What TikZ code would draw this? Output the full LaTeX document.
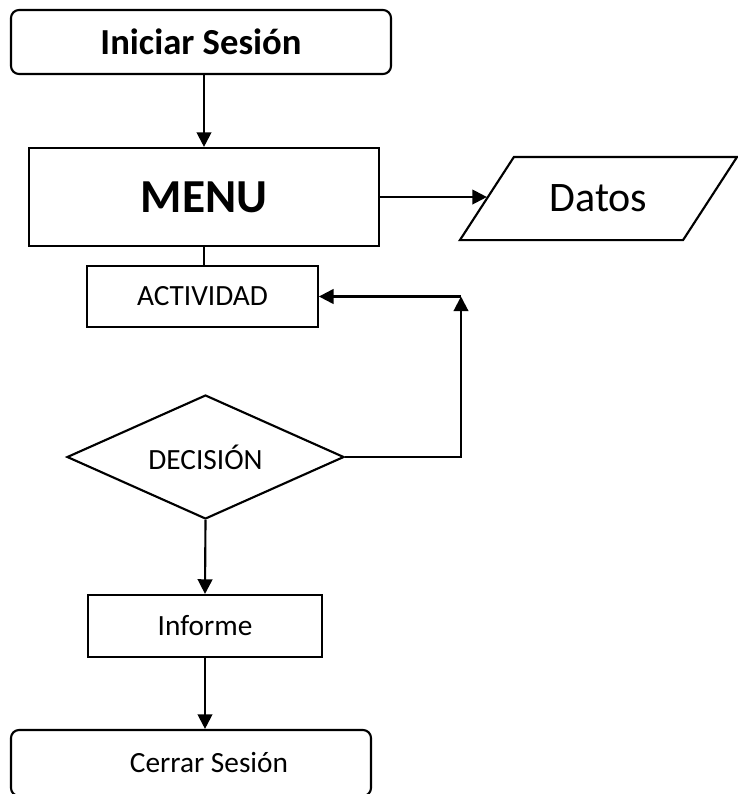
\documentclass[tikz,border=0pt]{standalone}
\usepackage{fontspec}
\setmainfont{Carlito}
\usepackage{tikz}
\usetikzlibrary{arrows.meta,positioning,shapes.geometric}

\begin{document}
\begin{tikzpicture}[x=0.75pt,y=-0.75pt,line width=1.6pt,
              box/.style={rectangle,draw,inner sep=0,line width=1.6pt},
              term/.style={box,rounded corners=6pt},
              dec/.style={diamond,aspect=2.23,draw,inner sep=0,line width=1.6pt},
              arr/.style={-{Triangle[length=11pt,width=11pt]}}]
              \useasboundingbox (0,0) rectangle (738,794);
              \node[term,minimum width=285pt,minimum height=48pt,
                font=\fontsize{27.5}{30}\selectfont\bfseries] (ini) at (201,42) {Iniciar Sesión};
              \node[box,minimum width=262.5pt,minimum height=73.5pt,
                font=\fontsize{35.5}{38}\selectfont\bfseries] (menu) at (204,197) {MENU};
              \node[box,minimum width=173pt,minimum height=46pt,
                font=\fontsize{22}{24}\selectfont] (act) at (202.5,296.5) {ACTIVIDAD};
              % datos: parallelogram round a plain box
              \node[inner sep=0,minimum width=165.75pt,minimum height=60.75pt,
                font=\fontsize{31.5}{34}\selectfont] (dat) at (598.5,198.5) {Datos};
              \draw ([xshift=20.25pt]dat.north west) -- ([xshift=20.25pt]dat.north east)
                -- ([xshift=-20.25pt]dat.south east) -- ([xshift=-20.25pt]dat.south west) -- cycle;
              \node[dec,minimum width=207.75pt,minimum height=93pt,
                font=\fontsize{22}{24}\selectfont] (deci) at (205.5,457) {DECISIÓN};
              \node[box,minimum width=175.5pt,minimum height=46.5pt,
                font=\fontsize{22}{24}\selectfont] (inf) at (205,626) {Informe};
              \node[term,minimum width=270pt,minimum height=49.5pt,
                font=\fontsize{22}{24}\selectfont] (cer) at (191,763) {\hspace*{27pt}Cerrar Sesión};
              \coordinate (back) at (461,296.5);
              \draw[arr] (menu.north |- ini.south) -- (menu.north);
              \draw (menu.south) -- (menu.south |- act.north);
              \draw[arr] (menu.east) -- (dat.west |- menu.east);
              \draw[arr] (deci.east) -| (back);
              \draw[arr] (back) -- (act.east);
              \draw[arr] (deci.south) -- (inf.north);
              \draw[arr] (inf.south) -- (inf.south |- cer.north);
            \end{tikzpicture}
\end{document}
